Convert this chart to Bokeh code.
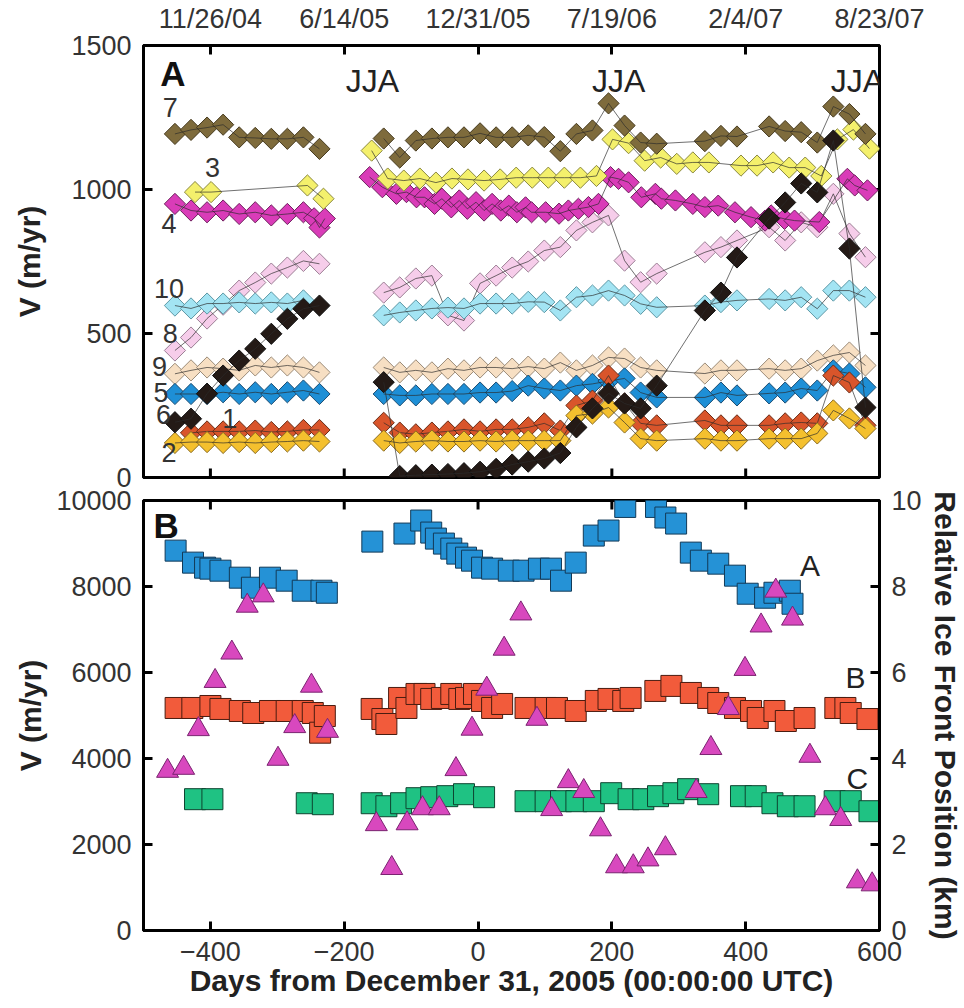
import numpy as np
from bokeh.plotting import figure
from bokeh.models import Range1d, LinearAxis, FixedTicker, Label
from bokeh.layouts import column
from bokeh.embed import file_html
from bokeh.resources import INLINE

FONT = "Liberation Sans"

# ---------------- Panel A: speeds at flow-line points (m/yr) ----------------
grid_left = [-453, -429, -405, -381, -357, -333, -309, -285, -261, -237]
grid_right = [-141, -117, -93, -69, -45, -21, 3, 27, 51, 75, 99, 123, 147, 171,
              195, 219, 243, 267, 339, 363, 387, 435, 459, 483, 507, 531, 555, 579]

days_7 = grid_left + grid_right
vel_7 = [1193, 1207, 1215, 1225, 1181, 1179, 1176, 1176, 1181, 1141,
         1177, 1111, 1170, 1177, 1181, 1181, 1195, 1181, 1181, 1188, 1182, 1133, 1193, 1205,
         1299, 1222, 1163, 1159, 1168, 1186, 1184, 1219, 1203, 1199, 1163, 1288, 1262, 1193]

days_3 = [-423, -399, -255, -231, -159, -135, -111, -87, -63, -39, -15, 9, 33, 57, 81, 105,
          129, 153, 177, 201, 225, 249, 273, 297, 321, 345, 393, 417, 441, 465, 489, 513,
          537, 561, 585]
vel_3 = [991, 991, 1014, 968, 1135, 1038, 1031, 1038, 1024, 1038, 1035, 1031, 1035, 1041,
         1041, 1041, 1041, 1041, 1047, 1174, 1161, 1100, 1111, 1089, 1094, 1094, 1083, 1083,
         1094, 1076, 1076, 1047, 1174, 1208, 1142]

days_4 = [-453, -429, -405, -381, -357, -333, -309, -285, -261, -245, -237, -229,
          -162, -143, -122, -107, -92, -80, -65, -54, -40, -28, -16, -3, 9, 21, 34, 46, 58,
          71, 80, 101, 121, 135, 150, 165, 180, 198, 210, 225, 244, 265, 274, 295, 321, 339,
          359, 384, 408, 429, 438, 458, 473, 510, 552, 563, 582]
vel_4 = [950, 927, 921, 927, 915, 921, 910, 915, 921, 900, 868, 899,
         1043, 1008, 985, 991, 973, 973, 950, 968, 938, 962, 933, 956, 927, 950, 927, 944, 921,
         938, 921, 921, 916, 927, 933, 939, 950, 1043, 1037, 1025, 973, 985, 968, 962, 950, 939,
         944, 921, 904, 892, 910, 898, 892, 887, 1037, 1014, 997]

days_10 = grid_left[:9] + grid_right
vel_10 = [597, 587, 604, 604, 608, 604, 608, 604, 615,
          563, 573, 580, 587, 590, 587, 604, 604, 604, 610, 609, 580, 626, 632,
          649, 632, 603, 591, 597, 609, 615, 620, 615, 626, 586, 649, 649, 626]

days_8 = grid_left + grid_right
vel_8 = [441, 486, 552, 600, 649, 677, 708, 729, 752, 742,
         642, 660, 691, 701, 563, 545, 674, 701, 729, 750, 788, 800, 858, 886,
         910, 753, 678, 708, 782, 800, 823, 869, 823, 886, 869, 985, 847, 765]

days_9 = grid_left + grid_right
vel_9 = [360, 372, 382, 378, 372, 389, 382, 389, 382, 365,
         382, 365, 372, 365, 378, 372, 382, 382, 378, 385, 378, 399, 372, 389,
         417, 413, 382, 372, 361, 372, 372, 378, 372, 378, 406, 424, 434, 389]

days_5 = grid_left + grid_right
vel_5 = [290, 290, 290, 296, 290, 296, 290, 296, 302, 290,
         290, 285, 285, 290, 290, 290, 295, 295, 300, 319, 309, 302, 319, 325,
         335, 344, 295, 278, 278, 295, 285, 292, 295, 309, 302, 372, 361, 313]

days_6 = grid_left + grid_right
vel_6 = [192, 204, 291, 354, 406, 447, 499, 551, 586, 597,
         331, 5, 8, 10, 12, 15, 20, 30, 45, 55, 66, 85, 174, 240,
         292, 257, 240, 319, 580, 642, 764, 899, 955, 1021, 990, 1170, 795, 243]

days_1 = grid_left[1:] + grid_right
vel_1 = [155, 160, 160, 160, 163, 158, 160, 165, 165,
         190, 156, 150, 156, 160, 167, 160, 167, 167, 174, 188, 163, 250, 267,
         354, 257, 188, 181, 198, 181, 181, 181, 188, 191, 188, 354, 330, 181]

days_2 = grid_left + grid_right
vel_2 = [120, 123, 123, 120, 123, 120, 123, 125, 128, 125,
         128, 120, 125, 128, 125, 125, 128, 125, 128, 128, 128, 128, 215, 222,
         243, 191, 135, 128, 135, 128, 128, 135, 135, 135, 153, 233, 205, 170]

# point id, days, speeds, fill, outline (drawing order: back to front)
series_a = [
    ("8", days_8, vel_8, "#F6CDEA", "#9c7f95"),
    ("10", days_10, vel_10, "#A3E4F3", "#5d98a6"),
    ("9", days_9, vel_9, "#F7DFC3", "#9b8b78"),
    ("5", days_5, vel_5, "#1E8FD6", "#1b4d73"),
    ("1", days_1, vel_1, "#D9552B", "#6b2c16"),
    ("2", days_2, vel_2, "#F4C02E", "#8a6b1f"),
    ("4", days_4, vel_4, "#D93CB8", "#6e1f5d"),
    ("3", days_3, vel_3, "#F4F06C", "#8a8840"),
    ("7", days_7, vel_7, "#7E6B3C", "#463a1e"),
    ("6", days_6, vel_6, "#241A16", "#111111"),
]

# point-id annotations (day, m/yr)
id_labels = ["7", "3", "4", "10", "8", "9", "5", "6", "1", "2"]
id_x = [-460, -397, -462, -462, -460, -476, -474, -470, -371, -462]
id_y = [1285, 1076, 882, 656, 500, 385, 295, 220, 205, 87]

season_x = [-158, 210, 567]
season_text = ["JJA", "JJA", "JJA"]

# ---------------- Panel B: glacier speeds (m/yr) and ice-front position (km) ----------------
days_ga = [-452, -426, -408, -400, -385, -356, -338, -311, -286, -262, -234, -226, -158, -110,
           -85, -70, -63, -51, -40, -31, -18, -9, 6, 21, 46, 68, 91, 109, 124, 146, 173, 195,
           220, 266, 280, 296, 318, 333, 359, 384, 403, 429, 443, 466, 470]
vel_ga = [8834, 8555, 8438, 8415, 8368, 8205, 7972, 8205, 8135, 7902, 7902, 7855, 9044, 9231,
          9534, 9254, 9114, 8998, 8881, 8765, 8671, 8601, 8438, 8415, 8368, 8368, 8415, 8415,
          8135, 8555, 9184, 9301, 9850, 9850, 9604, 9464, 8788, 8601, 8531, 8252, 7832, 7739,
          7855, 7902, 7599]

days_gb = [-452, -427, -400, -385, -356, -336, -311, -286, -262, -247, -236, -229, -159, -143,
           -137, -118, -107, -92, -80, -70, -54, -40, -28, -18, -6, 6, 21, 36, 71, 101, 118,
           146, 176, 195, 217, 228, 265, 289, 318, 344, 359, 384, 408, 418, 443, 460, 488, 534,
           549, 557, 582]
vel_gb = [5175, 5175, 5221, 5152, 5105, 5058, 5105, 5105, 5105, 5058, 4600, 4988, 5152, 4918,
          4802, 5408, 5175, 5501, 5501, 5385, 5408, 5501, 5385, 5408, 5501, 5338, 5175, 5268,
          5175, 5175, 5175, 5105, 5338, 5385, 5338, 5408, 5571, 5688, 5524, 5408, 5291, 5175,
          5105, 4942, 5105, 4872, 4942, 5175, 5175, 5058, 4918]

days_gc = [-423, -397, -256, -232, -159, -137, -115, -92, -70, -46, -21, 9, 71, 101, 124, 147,
           173, 199, 225, 247, 269, 292, 314, 344, 393, 415, 440, 463, 488, 533, 557, 585]
vel_gc = [3054, 3054, 2960, 2937, 2960, 2890, 2960, 3077, 3100, 3124, 3170, 3100, 3007, 3007,
          3007, 3007, 3007, 3193, 3054, 3054, 3124, 3193, 3287, 3170, 3124, 3124, 2960, 2890,
          2890, 3007, 3007, 2774]

days_front = [-464, -440, -418, -393, -368, -345, -321, -299, -274, -249, -225, -152, -129,
              -106, -83, -58, -33, -9, 13, 39, 64, 88, 110, 135, 158, 183, 207, 232, 254, 280,
              326, 348, 374, 399, 423, 445, 470, 496, 519, 542, 567, 589]
front_km = [3.71, 3.78, 4.68, 5.80, 6.46, 7.55, 7.79, 3.99, 4.75, 5.69, 4.64, 2.47, 1.45,
            2.49, 2.84, 2.84, 3.75, 4.69, 5.62, 6.55, 7.37, 4.92, 2.82, 3.47, 3.24, 2.35, 1.49,
            1.49, 1.65, 1.91, 3.24, 4.24, 5.17, 6.08, 7.09, 7.90, 7.25, 4.06, 2.84, 2.59, 1.14,
            1.07]

glacier_names = ["A", "B", "C"]
glacier_name_x = [496, 564, 567]
glacier_name_y = [8485, 5874, 3543]

date_ticks = [-400, -200, 0, 200, 400, 600]
date_labels = ["11/26/04", "6/14/05", "12/31/05", "7/19/06", "2/4/07", "8/23/07"]
inner_day_ticks = [-400, -200, 0, 200, 400]


def style_axis(ax):
    ax.axis_line_width = 3
    ax.axis_line_color = "black"
    ax.major_tick_in = 9
    ax.major_tick_out = 0
    ax.major_tick_line_width = 3
    ax.major_tick_line_color = "black"
    ax.minor_tick_line_color = None
    ax.major_label_text_font = FONT
    ax.major_label_text_font_size = "27px"
    ax.major_label_text_color = "#333333"
    ax.major_label_standoff = 12
    ax.axis_label_text_font = FONT
    ax.axis_label_text_font_style = "bold"
    ax.axis_label_text_color = "#222222"
    ax.axis_label_text_font_size = "30px"


def make_fig(height, yr, top, bottom):
    p = figure(width=964, height=height, x_range=Range1d(-500, 600), y_range=yr,
               output_backend="svg", toolbar_location=None,
               x_axis_location=None, y_axis_location=None,
               min_border_left=143, min_border_right=82,
               min_border_top=top, min_border_bottom=bottom)
    p.grid.grid_line_color = None
    p.outline_line_color = "black"
    p.outline_line_width = 3
    p.background_fill_color = "white"
    return p


def inner_ticks(p, xs, ys, vertical, **kw):
    # short inward tick marks on an unlabeled frame side (the outer half is clipped)
    p.scatter(xs, ys, marker="dash", size=18, angle=np.pi / 2 if vertical else 0.0,
              line_color="black", line_width=3, **kw)


# ---- panel A ----
pa = make_fig(500, Range1d(0, 1500), 45, 23)
pa.border_fill_color = "white"

ax_top = LinearAxis(ticker=FixedTicker(ticks=date_ticks),
                    major_label_overrides=dict(zip(date_ticks, date_labels)))
style_axis(ax_top)
pa.add_layout(ax_top, "above")

ay_left = LinearAxis(ticker=FixedTicker(ticks=[0, 500, 1000, 1500]), axis_label="V (m/yr)")
style_axis(ay_left)
ay_left.axis_label_standoff = 22
pa.add_layout(ay_left, "left")

inner_ticks(pa, inner_day_ticks, [0] * len(inner_day_ticks), True)
inner_ticks(pa, [600, 600], [500, 1000], False)

for name, d, v, fill, edge in series_a:
    d = np.asarray(d, dtype=float)
    v = np.asarray(v, dtype=float)
    pa.scatter(d, v, marker="square", angle=np.pi / 4, size=15,
               fill_color=fill, line_color=edge, line_width=1)
    # no connection across the summer-2005 data gap
    for part in (d < -190, d > -190):
        pa.line(d[part], v[part], line_color="#2b2b2b", line_width=0.8, line_alpha=0.85)

for t, x, y in zip(id_labels, id_x, id_y):
    pa.add_layout(Label(x=x, y=y, text=t, text_font=FONT, text_font_size="27px",
                        text_color="#333333", text_align="center", text_baseline="middle"))

for x, t in zip(season_x, season_text):
    pa.add_layout(Label(x=x, y=1378, text=t, text_font=FONT, text_font_size="32px",
                        text_color="#222222", text_align="center", text_baseline="middle"))

pa.add_layout(Label(x=-456, y=1403, text="A", text_font=FONT, text_font_size="35px",
                    text_font_style="bold", text_color="#111111",
                    text_align="center", text_baseline="middle"))

# ---- panel B (its transparent top border overlaps the bottom border of panel A) ----
pb = make_fig(532, Range1d(0, 10000), 24, 78)
pb.border_fill_color = None
pb.margin = (-24, 0, 0, 0)
pb.extra_y_ranges = {"km": Range1d(0, 10)}

bx_bot = LinearAxis(ticker=FixedTicker(ticks=date_ticks),
                    axis_label="Days from December 31, 2005 (00:00:00 UTC)")
style_axis(bx_bot)
bx_bot.major_label_standoff = 11
bx_bot.axis_label_standoff = 0
pb.add_layout(bx_bot, "below")

by_left = LinearAxis(ticker=FixedTicker(ticks=[0, 2000, 4000, 6000, 8000, 10000]),
                     axis_label="V (m/yr)")
style_axis(by_left)
by_left.axis_label_standoff = 6
pb.add_layout(by_left, "left")

by_right = LinearAxis(y_range_name="km", ticker=FixedTicker(ticks=[0, 2, 4, 6, 8, 10]),
                      axis_label="Relative Ice Front Position (km)")
style_axis(by_right)
by_right.axis_label_standoff = 4
pb.add_layout(by_right, "right")

inner_ticks(pb, inner_day_ticks, [10000] * len(inner_day_ticks), True)

pb.scatter(days_gb, vel_gb, marker="square", size=21,
           fill_color="#F25B3B", line_color="#4a1c10", line_width=1)
pb.scatter(days_gc, vel_gc, marker="square", size=21,
           fill_color="#1FC283", line_color="#0e4430", line_width=1)
pb.scatter(days_ga, vel_ga, marker="square", size=21,
           fill_color="#2592D6", line_color="#123a58", line_width=1)
pb.scatter(days_front, front_km, y_range_name="km", marker="triangle", size=22,
           fill_color="#D848BE", line_color="#7a2370", line_width=1)

for t, x, y in zip(glacier_names, glacier_name_x, glacier_name_y):
    pb.add_layout(Label(x=x, y=y, text=t, text_font=FONT, text_font_size="30px",
                        text_color="#222222", text_align="center", text_baseline="middle"))

pb.add_layout(Label(x=-466, y=9420, text="B", text_font=FONT, text_font_size="35px",
                    text_font_style="bold", text_color="#111111",
                    text_align="center", text_baseline="middle"))

layout = column(pa, pb, spacing=0)
open("out.html", "w").write(file_html(layout, INLINE))
